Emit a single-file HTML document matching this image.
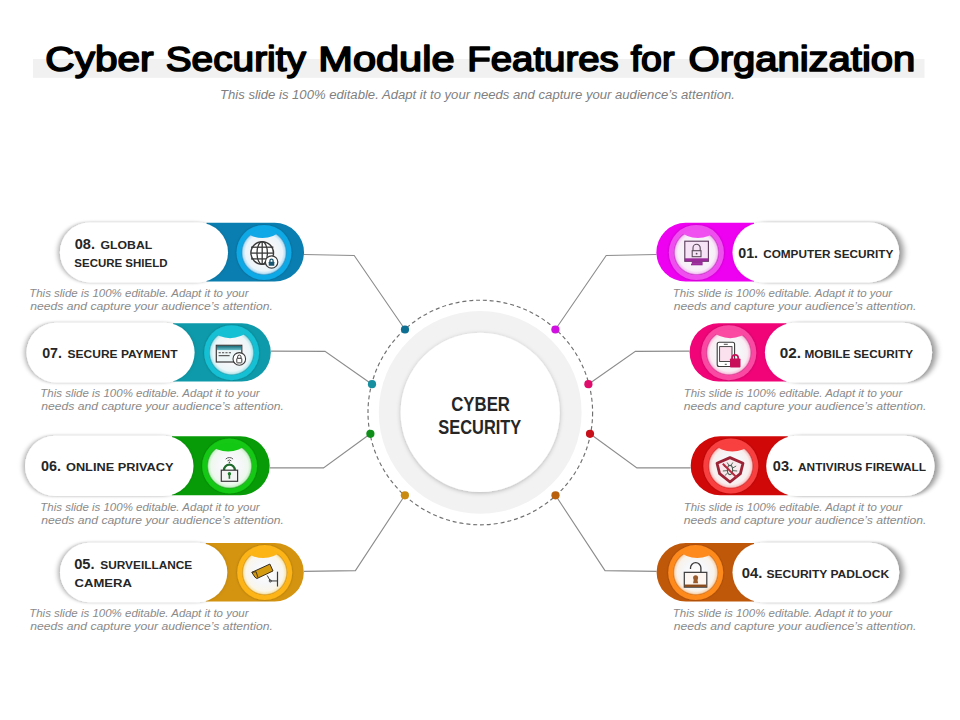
<!DOCTYPE html>
<html><head><meta charset="utf-8"><title>Cyber Security Module Features for Organization</title>
<style>
html,body{margin:0;padding:0;background:#fff;}
body{width:960px;height:720px;overflow:hidden;position:relative;font-family:"Liberation Sans",sans-serif;}
svg{position:absolute;left:0;top:0;}
svg text{font-family:"Liberation Sans",sans-serif;}
</style></head><body>
<svg width="960" height="720" viewBox="0 0 960 720">
<defs>
<filter id="shL" x="-20%" y="-30%" width="140%" height="160%"><feDropShadow dx="-1.8" dy="0" stdDeviation="2.4 1.6" flood-color="#000" flood-opacity="0.33"/></filter>
<filter id="shR" x="-20%" y="-30%" width="140%" height="160%"><feDropShadow dx="4.2" dy="0" stdDeviation="3.2 1.8" flood-color="#000" flood-opacity="0.42"/></filter>
<filter id="rsh" x="-20%" y="-20%" width="140%" height="140%"><feDropShadow dx="0" dy="0" stdDeviation="1.3" flood-color="#000" flood-opacity="0.3"/></filter>
<linearGradient id="stripe" x1="0" y1="0" x2="0" y2="1"><stop offset="0" stop-color="#1a6a78"/><stop offset="1" stop-color="#6cc0cc"/></linearGradient>
<filter id="csh" x="-20%" y="-20%" width="140%" height="140%"><feDropShadow dx="0" dy="1" stdDeviation="2" flood-color="#000" flood-opacity="0.25"/></filter>
<radialGradient id="disk" cx="50%" cy="40%" r="60%"><stop offset="0" stop-color="#ffffff"/><stop offset="0.6" stop-color="#f6f6f8"/><stop offset="1" stop-color="#d8d8dc"/></radialGradient>
<clipPath id="c0"><circle cx="264.00" cy="252.50" r="23.2"/></clipPath><radialGradient id="g0" cx="50%" cy="50%" r="50%"><stop offset="0" stop-color="#ffffff"/><stop offset="0.5" stop-color="#f6f7f9"/><stop offset="0.82" stop-color="#eaf4fa"/><stop offset="0.93" stop-color="#b8e0f6"/><stop offset="1" stop-color="#2a8ec0"/></radialGradient><clipPath id="c1"><circle cx="231.60" cy="352.70" r="23.2"/></clipPath><radialGradient id="g1" cx="50%" cy="50%" r="50%"><stop offset="0" stop-color="#ffffff"/><stop offset="0.5" stop-color="#f6f7f9"/><stop offset="0.82" stop-color="#eaf6f8"/><stop offset="0.93" stop-color="#b8e8ee"/><stop offset="1" stop-color="#1a9aa8"/></radialGradient><clipPath id="c2"><circle cx="229.60" cy="466.00" r="23.2"/></clipPath><radialGradient id="g2" cx="50%" cy="50%" r="50%"><stop offset="0" stop-color="#ffffff"/><stop offset="0.5" stop-color="#f6f7f9"/><stop offset="0.82" stop-color="#eef8ee"/><stop offset="0.93" stop-color="#c8f0c8"/><stop offset="1" stop-color="#20a020"/></radialGradient><clipPath id="c3"><circle cx="264.70" cy="572.55" r="23.2"/></clipPath><radialGradient id="g3" cx="50%" cy="50%" r="50%"><stop offset="0" stop-color="#ffffff"/><stop offset="0.5" stop-color="#f6f7f9"/><stop offset="0.82" stop-color="#faf6ea"/><stop offset="0.93" stop-color="#f8e8b8"/><stop offset="1" stop-color="#d09010"/></radialGradient><clipPath id="c4"><circle cx="696.40" cy="252.50" r="23.2"/></clipPath><radialGradient id="g4" cx="50%" cy="50%" r="50%"><stop offset="0" stop-color="#ffffff"/><stop offset="0.5" stop-color="#f6f7f9"/><stop offset="0.82" stop-color="#f8eef8"/><stop offset="0.93" stop-color="#f4c8f4"/><stop offset="1" stop-color="#c030c0"/></radialGradient><clipPath id="c5"><circle cx="728.80" cy="352.70" r="23.2"/></clipPath><radialGradient id="g5" cx="50%" cy="50%" r="50%"><stop offset="0" stop-color="#ffffff"/><stop offset="0.5" stop-color="#f6f7f9"/><stop offset="0.82" stop-color="#f8eef4"/><stop offset="0.93" stop-color="#f8c8e0"/><stop offset="1" stop-color="#d03088"/></radialGradient><clipPath id="c6"><circle cx="730.80" cy="466.00" r="23.2"/></clipPath><radialGradient id="g6" cx="50%" cy="50%" r="50%"><stop offset="0" stop-color="#ffffff"/><stop offset="0.5" stop-color="#f6f7f9"/><stop offset="0.82" stop-color="#f8eeee"/><stop offset="0.93" stop-color="#f8c8c8"/><stop offset="1" stop-color="#d02020"/></radialGradient><clipPath id="c7"><circle cx="695.70" cy="572.55" r="23.2"/></clipPath><radialGradient id="g7" cx="50%" cy="50%" r="50%"><stop offset="0" stop-color="#ffffff"/><stop offset="0.5" stop-color="#f6f7f9"/><stop offset="0.82" stop-color="#f8f2ea"/><stop offset="0.93" stop-color="#fad8b8"/><stop offset="1" stop-color="#d06a10"/></radialGradient>
</defs>
<rect x="33" y="59" width="891.5" height="18.8" fill="#f1f1f1"/>
<polyline points="304.00,254.50 354.20,255.50 405.00,329.50" fill="none" stroke="#8c8c8c" stroke-width="1.1"/><polyline points="270.80,351.10 325.00,351.40 372.00,384.20" fill="none" stroke="#8c8c8c" stroke-width="1.1"/><polyline points="269.70,467.90 323.50,467.90 370.40,433.80" fill="none" stroke="#8c8c8c" stroke-width="1.1"/><polyline points="303.80,571.40 355.40,570.60 404.90,495.30" fill="none" stroke="#8c8c8c" stroke-width="1.1"/><polyline points="656.40,254.50 606.20,255.50 555.40,329.50" fill="none" stroke="#8c8c8c" stroke-width="1.1"/><polyline points="689.60,351.10 635.40,351.40 588.40,384.20" fill="none" stroke="#8c8c8c" stroke-width="1.1"/><polyline points="690.70,467.90 636.90,467.90 590.00,433.80" fill="none" stroke="#8c8c8c" stroke-width="1.1"/><polyline points="656.60,571.40 605.00,570.60 555.50,495.30" fill="none" stroke="#8c8c8c" stroke-width="1.1"/>
<circle cx="480.3" cy="412.5" r="112.3" fill="none" stroke="#707070" stroke-width="1.15" stroke-dasharray="4 2.9"/>
<circle cx="480.2" cy="412.4" r="101.4" fill="#f2f2f2"/>
<circle cx="480.2" cy="412.4" r="79.6" fill="#fff" filter="url(#csh)"/>
<path d="M206.50 222.80 H274.60 A29.40 29.40 0 0 1 274.60 281.60 H206.50 Z" fill="#0a7eb0"/><rect x="59.90" y="222.40" width="168.10" height="60.00" rx="30.00" fill="#fff" filter="url(#shL)"/><circle cx="264.00" cy="252.50" r="27.5" fill="#10a8e6" filter="url(#rsh)"/><circle cx="264.00" cy="252.50" r="22.6" fill="url(#g0)"/><circle cx="262.50" cy="210.50" r="27.5" fill="#10a8e6" clip-path="url(#c0)"/><g transform="translate(264.00,252.50)"><circle cx="-1.8" cy="0.5" r="11.3" fill="#fff" stroke="#3a3a3a" stroke-width="1.4"/><ellipse cx="-1.8" cy="0.5" rx="5.2" ry="11.3" fill="none" stroke="#3a3a3a" stroke-width="1.3"/><line x1="-1.8" y1="-10.8" x2="-1.8" y2="11.8" stroke="#3a3a3a" stroke-width="1.3"/><line x1="-13" y1="-5.3" x2="9.4" y2="-5.3" stroke="#3a3a3a" stroke-width="1.3"/><line x1="-13" y1="0.6" x2="9.4" y2="0.6" stroke="#3a3a3a" stroke-width="1.3"/><line x1="-13" y1="6.4" x2="9.4" y2="6.4" stroke="#3a3a3a" stroke-width="1.3"/><circle cx="7.6" cy="9.5" r="6.2" fill="#fff" stroke="#3a3a3a" stroke-width="1.2"/><rect x="4.7" y="9.2" width="5.6" height="4" rx="0.5" fill="#1a5570"/><path d="M5.9 9.4v-1.2a1.6 1.6 0 0 1 3.2 0v1.2" fill="none" stroke="#1a5570" stroke-width="1.3"/></g><circle cx="405.00" cy="329.50" r="4.1" fill="#0f6f92"/><path d="M173.10 323.20 H241.60 A29.20 29.20 0 0 1 241.60 381.60 H173.10 Z" fill="#0e9aaa"/><rect x="26.50" y="322.80" width="168.10" height="59.60" rx="29.80" fill="#fff" filter="url(#shL)"/><circle cx="231.60" cy="352.70" r="27.5" fill="#14c0d4" filter="url(#rsh)"/><circle cx="231.60" cy="352.70" r="22.6" fill="url(#g1)"/><circle cx="230.10" cy="310.70" r="27.5" fill="#14c0d4" clip-path="url(#c1)"/><g transform="translate(231.60,352.70)"><rect x="-15.3" y="-7.4" width="25.5" height="16.7" fill="#eef7f8" stroke="#3a3a3a" stroke-width="1.2"/><rect x="-14.7" y="-6.8" width="24.3" height="4.2" fill="url(#stripe)"/><line x1="-13" y1="0" x2="-0.6" y2="0" stroke="#4a4a4a" stroke-width="1.1" stroke-dasharray="2.2 1.2"/><line x1="-13" y1="3" x2="-2" y2="3" stroke="#3a3a3a" stroke-width="1"/><circle cx="7.7" cy="6.2" r="6.3" fill="#fff" stroke="#3a3a3a" stroke-width="1.1"/><rect x="5.2" y="5.6" width="5" height="4.6" rx="0.6" fill="none" stroke="#3a3a3a" stroke-width="1"/><path d="M6 5.6v-1.5a1.7 1.7 0 0 1 3.4 0v1.5" fill="none" stroke="#3a3a3a" stroke-width="1"/></g><circle cx="372.00" cy="384.20" r="4.1" fill="#168fa0"/><path d="M172.00 436.20 H240.20 A29.50 29.50 0 0 1 240.20 495.20 H172.00 Z" fill="#079c07"/><rect x="25.00" y="435.80" width="168.50" height="60.20" rx="30.10" fill="#fff" filter="url(#shL)"/><circle cx="229.60" cy="466.00" r="27.5" fill="#12c812" filter="url(#rsh)"/><circle cx="229.60" cy="466.00" r="22.6" fill="url(#g2)"/><circle cx="228.10" cy="424.00" r="27.5" fill="#12c812" clip-path="url(#c2)"/><g transform="translate(229.60,466.00)"><path d="M-5.6 4.4v-0.3a5.4 5.4 0 0 1 10.8 0v0.3" fill="none" stroke="#1f6a2c" stroke-width="2.3"/><rect x="-8.3" y="4.2" width="16.3" height="11.1" fill="#f4f4f4" stroke="#3a3a3a" stroke-width="1.2"/><circle cx="-0.2" cy="7.8" r="1.7" fill="#1f7a2c"/><rect x="-1" y="7.8" width="1.6" height="5" fill="#1f7a2c"/><path d="M-3.9 -6.9a5.2 5.2 0 0 1 7.4 0M-2.1 -5.1a2.7 2.7 0 0 1 3.8 0" fill="none" stroke="#555" stroke-width="1"/><circle cx="-0.2" cy="-3.6" r="0.8" fill="#555"/></g><circle cx="370.40" cy="433.80" r="4.1" fill="#0f8f1a"/><path d="M205.80 543.10 H274.65 A29.15 29.15 0 0 1 274.65 601.40 H205.80 Z" fill="#d49410"/><rect x="60.00" y="542.70" width="167.30" height="59.50" rx="29.75" fill="#fff" filter="url(#shL)"/><circle cx="264.70" cy="572.55" r="27.5" fill="#fcb414" filter="url(#rsh)"/><circle cx="264.70" cy="572.55" r="22.6" fill="url(#g3)"/><circle cx="263.20" cy="530.55" r="27.5" fill="#fcb414" clip-path="url(#c3)"/><g transform="translate(264.70,572.55)"><path d="M-12.9 -0.2 L5.2 -8.5 L8.3 -1.6 L-7.8 6 L-9.8 4.6 Z" fill="#d49a10" stroke="#3a3020" stroke-width="1"/><path d="M-12.9 -0.2 L-8.6 -0.8 L-6.8 4.9" fill="none" stroke="#3a3020" stroke-width="0.9"/><path d="M2.5 2.9 L5.6 8.4 L12.8 8.4" fill="none" stroke="#3a3a3a" stroke-width="1"/><circle cx="5.6" cy="8.4" r="1.1" fill="none" stroke="#3a3a3a" stroke-width="0.9"/><line x1="12.8" y1="-0.9" x2="12.8" y2="14" stroke="#3a3a3a" stroke-width="1.2"/></g><circle cx="404.90" cy="495.30" r="4.1" fill="#c98a12"/><path d="M754.00 222.80 H685.80 A29.40 29.40 0 0 0 685.80 281.60 H754.00 Z" fill="#ee00f0"/><rect x="732.50" y="222.40" width="166.70" height="60.00" rx="30.00" fill="#fff" filter="url(#shR)"/><circle cx="696.40" cy="252.50" r="27.5" fill="#f050f0" filter="url(#rsh)"/><circle cx="696.40" cy="252.50" r="22.6" fill="url(#g4)"/><circle cx="697.90" cy="210.50" r="27.5" fill="#f050f0" clip-path="url(#c4)"/><g transform="translate(696.40,252.50)"><rect x="-11.6" y="-11.3" width="23.6" height="20.1" fill="#f6e4f6" stroke="#5a3a5a" stroke-width="1.1"/><rect x="-11.6" y="5.8" width="23.6" height="3" fill="#9a2a9a"/><rect x="-4.6" y="8.8" width="10.8" height="2.6" fill="#9a2a9a"/><rect x="-5.4" y="11.2" width="11.6" height="1.6" fill="#9a2a9a"/><path d="M-3.4 -1.4v-3.2a3.6 3.6 0 0 1 7.2 0v3.2" fill="none" stroke="#5a4a5a" stroke-width="1.1"/><rect x="-4.2" y="-1.8" width="8.8" height="6" fill="#f6e4f6" stroke="#5a4a5a" stroke-width="1.1"/><circle cx="0.2" cy="1.2" r="0.9" fill="#5a4a5a"/></g><circle cx="555.40" cy="329.50" r="4.1" fill="#d010e0"/><path d="M786.40 323.20 H718.80 A29.20 29.20 0 0 0 718.80 381.60 H786.40 Z" fill="#f00478"/><rect x="764.90" y="322.80" width="167.20" height="59.60" rx="29.80" fill="#fff" filter="url(#shR)"/><circle cx="728.80" cy="352.70" r="27.5" fill="#fa4aa2" filter="url(#rsh)"/><circle cx="728.80" cy="352.70" r="22.6" fill="url(#g5)"/><circle cx="730.30" cy="310.70" r="27.5" fill="#fa4aa2" clip-path="url(#c5)"/><g transform="translate(728.80,352.70)"><rect x="-11.6" y="-10.5" width="17.4" height="24.3" rx="2" fill="#fff" stroke="#3a3a3a" stroke-width="1.1"/><rect x="-9.2" y="-6.1" width="12.4" height="14.9" fill="#fbe0ee" stroke="#3a3a3a" stroke-width="0.9"/><line x1="-5" y1="-8.4" x2="-1" y2="-8.4" stroke="#3a3a3a" stroke-width="0.9"/><line x1="-4" y1="11.6" x2="-2" y2="11.6" stroke="#3a3a3a" stroke-width="0.9"/><path d="M3.4 6.2v-1.1a3 3 0 0 1 6 0v1.1" fill="none" stroke="#c8105a" stroke-width="1.7"/><rect x="1.2" y="5.8" width="10.5" height="9.1" rx="0.8" fill="#c8105a"/></g><circle cx="588.40" cy="384.20" r="4.1" fill="#e00c6c"/><path d="M787.70 436.20 H720.20 A29.50 29.50 0 0 0 720.20 495.20 H787.70 Z" fill="#d00808"/><rect x="766.20" y="435.80" width="168.30" height="60.20" rx="30.10" fill="#fff" filter="url(#shR)"/><circle cx="730.80" cy="466.00" r="27.5" fill="#f84040" filter="url(#rsh)"/><circle cx="730.80" cy="466.00" r="22.6" fill="url(#g6)"/><circle cx="732.30" cy="424.00" r="27.5" fill="#f84040" clip-path="url(#c6)"/><g transform="translate(730.80,466.00)"><path d="M-0.8 -8.4 L12.2 -2.8 L9.6 7.6 L-0.8 16 L-11.2 7.6 L-13.8 -2.8 Z" fill="#f8eaec" stroke="#9b2335" stroke-width="2.8" stroke-linejoin="round"/><ellipse cx="-0.8" cy="4" rx="2.6" ry="4.6" fill="none" stroke="#4a5a50" stroke-width="1.1"/><path d="M-3.4 2 L-7 0 M-3.4 4.6 L-8 5 M-3.2 7 L-6 9.6 M1.8 2 L5.4 0 M1.8 4.6 L6.4 5 M1.6 7 L4.4 9.6 M-1.8 -0.5 L-3.6 -3.5 M0.2 -0.5 L2 -3.5" stroke="#4a5a50" stroke-width="0.9"/><line x1="-8" y1="-2.2" x2="5.8" y2="11.4" stroke="#b8283c" stroke-width="2"/></g><circle cx="590.00" cy="433.80" r="4.1" fill="#c8101a"/><path d="M754.00 543.10 H685.75 A29.15 29.15 0 0 0 685.75 601.40 H754.00 Z" fill="#c0580a"/><rect x="732.50" y="542.70" width="166.70" height="59.50" rx="29.75" fill="#fff" filter="url(#shR)"/><circle cx="695.70" cy="572.55" r="27.5" fill="#fe8a1e" filter="url(#rsh)"/><circle cx="695.70" cy="572.55" r="22.6" fill="url(#g7)"/><circle cx="697.20" cy="530.55" r="27.5" fill="#fe8a1e" clip-path="url(#c7)"/><g transform="translate(695.70,572.55)"><path d="M-5.2 -3.5v-1.2a5.2 5.2 0 0 1 10.4 0v4.4" fill="none" stroke="#3a3a3a" stroke-width="1.3"/><rect x="-11.4" y="-0.2" width="22.5" height="14.8" fill="#fdf6f0" stroke="#3a3a3a" stroke-width="1.2"/><rect x="-11" y="12" width="21.7" height="2.4" fill="#8a4a1a"/><circle cx="-0.1" cy="5.2" r="2.5" fill="#9a5a2a"/><path d="M-1.6 5.4 L-2.6 10.8 L2.4 10.8 L1.4 5.4 Z" fill="#9a5a2a"/></g><circle cx="555.50" cy="495.30" r="4.1" fill="#b8600c"/>
<text x="74.75" y="249.4" font-size="14.5" font-weight="bold" font-style="normal" fill="#262626" textLength="20.19" lengthAdjust="spacingAndGlyphs">08.</text><text x="100.56" y="249.4" font-size="11.4" font-weight="bold" font-style="normal" fill="#262626" textLength="51.77" lengthAdjust="spacingAndGlyphs">GLOBAL</text><text x="74.34" y="266.5" font-size="11.4" font-weight="bold" font-style="normal" fill="#262626" textLength="93.11" lengthAdjust="spacingAndGlyphs">SECURE SHIELD</text><text x="42.13" y="357.7" font-size="14.5" font-weight="bold" font-style="normal" fill="#262626" textLength="19.75" lengthAdjust="spacingAndGlyphs">07.</text><text x="67.58" y="357.7" font-size="11.4" font-weight="bold" font-style="normal" fill="#262626" textLength="109.95" lengthAdjust="spacingAndGlyphs">SECURE PAYMENT</text><text x="41.07" y="470.6" font-size="14.5" font-weight="bold" font-style="normal" fill="#262626" textLength="19.99" lengthAdjust="spacingAndGlyphs">06.</text><text x="65.98" y="470.6" font-size="11.4" font-weight="bold" font-style="normal" fill="#262626" textLength="107.57" lengthAdjust="spacingAndGlyphs">ONLINE PRIVACY</text><text x="74.15" y="569.4" font-size="14.5" font-weight="bold" font-style="normal" fill="#262626" textLength="20.36" lengthAdjust="spacingAndGlyphs">05.</text><text x="100.28" y="569.4" font-size="11.4" font-weight="bold" font-style="normal" fill="#262626" textLength="91.98" lengthAdjust="spacingAndGlyphs">SURVEILLANCE</text><text x="74.60" y="586.6" font-size="11.4" font-weight="bold" font-style="normal" fill="#262626" textLength="57.30" lengthAdjust="spacingAndGlyphs">CAMERA</text><text x="738.28" y="257.7" font-size="14.5" font-weight="bold" font-style="normal" fill="#262626" textLength="19.79" lengthAdjust="spacingAndGlyphs">01.</text><text x="763.17" y="257.7" font-size="11.4" font-weight="bold" font-style="normal" fill="#262626" textLength="130.14" lengthAdjust="spacingAndGlyphs">COMPUTER SECURITY</text><text x="779.86" y="357.8" font-size="14.5" font-weight="bold" font-style="normal" fill="#262626" textLength="21.22" lengthAdjust="spacingAndGlyphs">02.</text><text x="804.56" y="357.8" font-size="11.4" font-weight="bold" font-style="normal" fill="#262626" textLength="108.44" lengthAdjust="spacingAndGlyphs">MOBILE SECURITY</text><text x="772.87" y="470.9" font-size="14.5" font-weight="bold" font-style="normal" fill="#262626" textLength="20.25" lengthAdjust="spacingAndGlyphs">03.</text><text x="797.99" y="470.9" font-size="11.4" font-weight="bold" font-style="normal" fill="#262626" textLength="128.15" lengthAdjust="spacingAndGlyphs">ANTIVIRUS FIREWALL</text><text x="741.80" y="577.5" font-size="14.5" font-weight="bold" font-style="normal" fill="#262626" textLength="20.60" lengthAdjust="spacingAndGlyphs">04.</text><text x="766.45" y="577.5" font-size="11.4" font-weight="bold" font-style="normal" fill="#262626" textLength="122.69" lengthAdjust="spacingAndGlyphs">SECURITY PADLOCK</text><text x="29.17" y="296.9" font-size="11" font-weight="normal" font-style="italic" fill="#8a8a8a" textLength="219.43" lengthAdjust="spacingAndGlyphs">This slide is 100% editable. Adapt it to your</text><text x="30.19" y="310.1" font-size="11" font-weight="normal" font-style="italic" fill="#8a8a8a" textLength="242.62" lengthAdjust="spacingAndGlyphs">needs and capture your audience’s attention.</text><text x="40.23" y="396.9" font-size="11" font-weight="normal" font-style="italic" fill="#8a8a8a" textLength="219.44" lengthAdjust="spacingAndGlyphs">This slide is 100% editable. Adapt it to your</text><text x="41.24" y="410.1" font-size="11" font-weight="normal" font-style="italic" fill="#8a8a8a" textLength="242.62" lengthAdjust="spacingAndGlyphs">needs and capture your audience’s attention.</text><text x="40.23" y="510.9" font-size="11" font-weight="normal" font-style="italic" fill="#8a8a8a" textLength="219.44" lengthAdjust="spacingAndGlyphs">This slide is 100% editable. Adapt it to your</text><text x="41.24" y="524.1" font-size="11" font-weight="normal" font-style="italic" fill="#8a8a8a" textLength="242.62" lengthAdjust="spacingAndGlyphs">needs and capture your audience’s attention.</text><text x="29.17" y="616.9" font-size="11" font-weight="normal" font-style="italic" fill="#8a8a8a" textLength="219.43" lengthAdjust="spacingAndGlyphs">This slide is 100% editable. Adapt it to your</text><text x="30.19" y="630.1" font-size="11" font-weight="normal" font-style="italic" fill="#8a8a8a" textLength="242.62" lengthAdjust="spacingAndGlyphs">needs and capture your audience’s attention.</text><text x="672.73" y="296.9" font-size="11" font-weight="normal" font-style="italic" fill="#8a8a8a" textLength="219.43" lengthAdjust="spacingAndGlyphs">This slide is 100% editable. Adapt it to your</text><text x="673.74" y="310.1" font-size="11" font-weight="normal" font-style="italic" fill="#8a8a8a" textLength="242.63" lengthAdjust="spacingAndGlyphs">needs and capture your audience’s attention.</text><text x="683.77" y="396.9" font-size="11" font-weight="normal" font-style="italic" fill="#8a8a8a" textLength="218.44" lengthAdjust="spacingAndGlyphs">This slide is 100% editable. Adapt it to your</text><text x="683.78" y="410.1" font-size="11" font-weight="normal" font-style="italic" fill="#8a8a8a" textLength="242.62" lengthAdjust="spacingAndGlyphs">needs and capture your audience’s attention.</text><text x="683.77" y="510.9" font-size="11" font-weight="normal" font-style="italic" fill="#8a8a8a" textLength="218.44" lengthAdjust="spacingAndGlyphs">This slide is 100% editable. Adapt it to your</text><text x="683.78" y="524.1" font-size="11" font-weight="normal" font-style="italic" fill="#8a8a8a" textLength="242.62" lengthAdjust="spacingAndGlyphs">needs and capture your audience’s attention.</text><text x="672.73" y="616.9" font-size="11" font-weight="normal" font-style="italic" fill="#8a8a8a" textLength="219.43" lengthAdjust="spacingAndGlyphs">This slide is 100% editable. Adapt it to your</text><text x="673.74" y="630.1" font-size="11" font-weight="normal" font-style="italic" fill="#8a8a8a" textLength="242.63" lengthAdjust="spacingAndGlyphs">needs and capture your audience’s attention.</text><text x="45.36" y="70.9" font-size="34.5" font-weight="normal" font-style="normal" fill="#000" textLength="108.19" lengthAdjust="spacingAndGlyphs" stroke="#000" stroke-width="1.6" stroke-linejoin="round">Cyber</text><text x="165.68" y="70.9" font-size="34.5" font-weight="normal" font-style="normal" fill="#000" textLength="140.25" lengthAdjust="spacingAndGlyphs" stroke="#000" stroke-width="1.6" stroke-linejoin="round">Security</text><text x="318.30" y="70.9" font-size="34.5" font-weight="normal" font-style="normal" fill="#000" textLength="136.28" lengthAdjust="spacingAndGlyphs" stroke="#000" stroke-width="1.6" stroke-linejoin="round">Module</text><text x="467.32" y="70.9" font-size="34.5" font-weight="normal" font-style="normal" fill="#000" textLength="151.41" lengthAdjust="spacingAndGlyphs" stroke="#000" stroke-width="1.6" stroke-linejoin="round">Features</text><text x="630.70" y="70.9" font-size="34.5" font-weight="normal" font-style="normal" fill="#000" textLength="43.80" lengthAdjust="spacingAndGlyphs" stroke="#000" stroke-width="1.6" stroke-linejoin="round">for</text><text x="688.57" y="70.9" font-size="34.5" font-weight="normal" font-style="normal" fill="#000" textLength="226.76" lengthAdjust="spacingAndGlyphs" stroke="#000" stroke-width="1.6" stroke-linejoin="round">Organization</text><text x="219.99" y="98.6" font-size="12" font-weight="normal" font-style="italic" fill="#7f7f7f" textLength="515.02" lengthAdjust="spacingAndGlyphs">This slide is 100% editable. Adapt it to your needs and capture your audience’s attention.</text><text x="451.23" y="410.6" font-size="20" font-weight="bold" font-style="normal" fill="#262626" textLength="58.73" lengthAdjust="spacingAndGlyphs">CYBER</text><text x="438.35" y="433.8" font-size="20" font-weight="bold" font-style="normal" fill="#262626" textLength="82.88" lengthAdjust="spacingAndGlyphs">SECURITY</text>
</svg>
</body></html>
